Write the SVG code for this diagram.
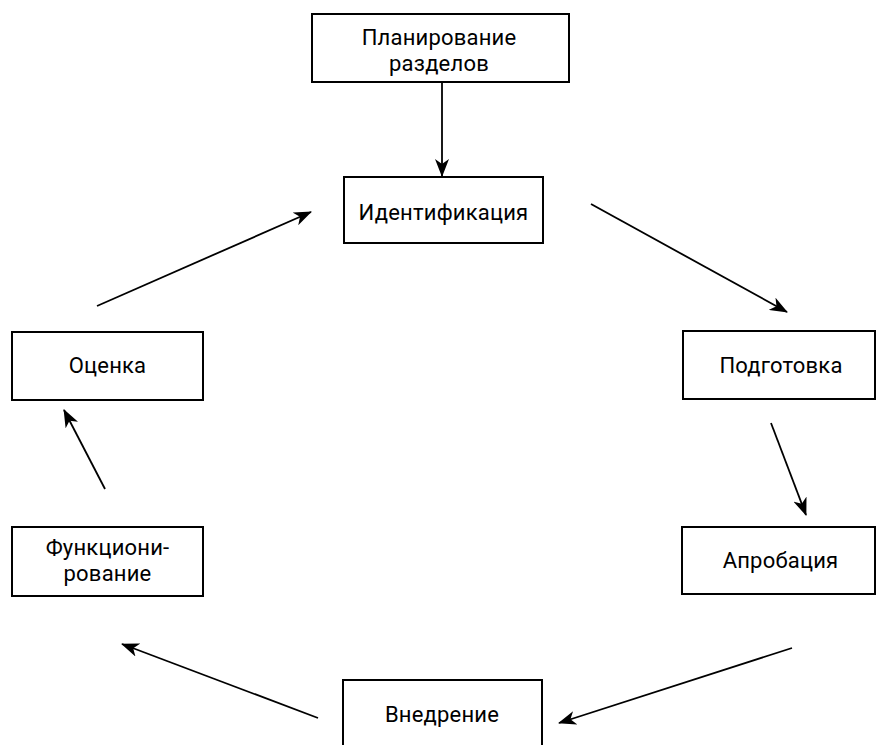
<svg xmlns="http://www.w3.org/2000/svg" width="877" height="745" viewBox="0 0 877 745">
<style>
.box{fill:#fff;stroke:#000;stroke-width:2}
.t{font-family:Roboto,"Liberation Sans",sans-serif;font-size:22px;letter-spacing:0.2px;fill:#000;text-anchor:middle}
.c{stroke:#000;stroke-width:1.8;fill:none;marker-end:url(#ah)}
</style>
<defs>
<marker id="ah" viewBox="0 0 18 14" refX="17" refY="7" markerWidth="18" markerHeight="14" markerUnits="userSpaceOnUse" orient="auto">
<path d="M0,0 L18,7 L0,14 L5,7 Z" fill="#000"/>
</marker>
</defs>
<rect width="877" height="745" fill="#fff"/>
<g id="connectors">
<line class="c" x1="442" y1="82" x2="442" y2="176"/>
<line class="c" x1="591" y1="204" x2="787" y2="312"/>
<line class="c" x1="771" y1="423" x2="806" y2="515"/>
<line class="c" x1="792" y1="648" x2="559" y2="723"/>
<line class="c" x1="318" y1="718" x2="122" y2="644"/>
<line class="c" x1="105" y1="489" x2="64" y2="410"/>
<line class="c" x1="97" y1="306" x2="311" y2="212"/>
</g>
<g id="planning">
<rect class="box" x="312" y="14" width="257" height="68"/>
<text class="t" x="439" y="45">Планирование</text>
<text class="t" x="439" y="71">разделов</text>
</g>
<g id="identification">
<rect class="box" x="344" y="177" width="199" height="66"/>
<text class="t" x="443.5" y="220">Идентификация</text>
</g>
<g id="preparation">
<rect class="box" x="683" y="331" width="192" height="68"/>
<text class="t" x="781" y="373">Подготовка</text>
</g>
<g id="approbation">
<rect class="box" x="682" y="527" width="193" height="67"/>
<text class="t" x="780.5" y="568">Апробация</text>
</g>
<g id="implementation">
<rect class="box" x="343" y="680" width="199" height="80"/>
<text class="t" x="442" y="722">Внедрение</text>
</g>
<g id="functioning">
<rect class="box" x="12" y="527" width="191" height="69"/>
<text class="t" x="107.5" y="555">Функциони-</text>
<text class="t" x="107.5" y="581">рование</text>
</g>
<g id="evaluation">
<rect class="box" x="12" y="332" width="191" height="68"/>
<text class="t" x="107.5" y="373">Оценка</text>
</g>
</svg>
